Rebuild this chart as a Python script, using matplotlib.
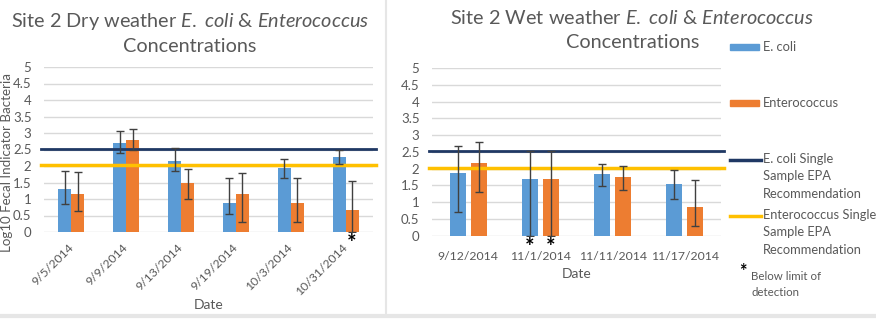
import matplotlib
matplotlib.use("Agg")
import matplotlib.pyplot as plt
import numpy as np
from matplotlib.lines import Line2D
from matplotlib.patches import Rectangle

plt.rcParams['font.family'] = ['Lato', 'DejaVu Sans']
plt.rcParams['mathtext.fontset'] = 'custom'
plt.rcParams['mathtext.rm'] = 'Lato'
plt.rcParams['mathtext.it'] = 'Lato:italic'

# dry weather data
dry_dates = ['9/5/2014', '9/9/2014', '9/13/2014', '9/19/2014', '10/3/2014', '10/31/2014']
dry_ecoli = [1.29, 2.70, 2.14, 0.87, 1.94, 2.28]
dry_ecoli_lo = [0.84, 2.38, 1.85, 0.55, 1.63, 2.07]
dry_ecoli_hi = [1.84, 3.07, 2.54, 1.64, 2.22, 2.48]
dry_entero = [1.16, 2.79, 1.48, 1.16, 0.87, 0.68]
dry_entero_lo = [0.64, 2.48, 0.99, 0.30, 0.30, 0.0]
dry_entero_hi = [1.81, 3.12, 1.90, 1.79, 1.65, 1.54]
dry_entero_bld = [False, False, False, False, False, True]

# wet weather data
wet_dates = ['9/12/2014', '11/1/2014', '11/11/2014', '11/17/2014']
wet_ecoli = [1.87, 1.69, 1.83, 1.54]
wet_ecoli_lo = [0.70, 0.0, 1.47, 1.10]
wet_ecoli_hi = [2.66, 2.54, 2.14, 1.96]
wet_entero = [2.16, 1.69, 1.75, 0.86]
wet_entero_lo = [1.29, 0.0, 1.36, 0.28]
wet_entero_hi = [2.79, 2.54, 2.09, 1.65]
wet_ecoli_bld = [False, True, False, False]
wet_entero_bld = [False, True, False, False]

ecoli_limit = 2.52
entero_limit = 2.03

BLUE = '#5B9BD5'
ORANGE = '#ED7D31'
NAVY = '#1F3864'
YELLOW = '#FFC000'
GRAY = '#595959'
GRID = '#D9D9D9'

W, H = 876, 319
fig = plt.figure(figsize=(W / 100, H / 100), dpi=100)


def fx(x):
    return x / W


def fy(y):
    return 1 - y / H


def star(ax, x):
    ax.annotate('*', (x, 0), xytext=(0, -1), textcoords='offset points',
                ha='center', va='top', fontsize=16, fontweight='bold', color='black',
                annotation_clip=False, zorder=5)


def draw_panel(ax, dates, ecoli, elo, ehi, entero, nlo, nhi, ebld, nbld, width, offset):
    x = np.arange(len(dates))
    ax.bar(x - offset, ecoli, width, color=BLUE, zorder=2)
    ax.bar(x + offset, entero, width, color=ORANGE, zorder=2)
    ecoli = np.array(ecoli)
    entero = np.array(entero)
    ax.errorbar(x - offset, ecoli, yerr=[ecoli - np.array(elo), np.array(ehi) - ecoli],
                fmt='none', ecolor='#404040', elinewidth=1, capsize=3, capthick=1, zorder=4)
    ax.errorbar(x + offset, entero, yerr=[entero - np.array(nlo), np.array(nhi) - entero],
                fmt='none', ecolor='#404040', elinewidth=1, capsize=3, capthick=1, zorder=4)
    ax.axhline(ecoli_limit, color=NAVY, lw=2, zorder=3, xmin=-0.01, xmax=1.01, clip_on=False)
    ax.axhline(entero_limit, color=YELLOW, lw=2.5, zorder=3, xmin=-0.01, xmax=1.01, clip_on=False)
    for i in range(len(dates)):
        if ebld[i]:
            star(ax, x[i] - offset)
        if nbld[i]:
            star(ax, x[i] + offset)
    ax.set_ylim(0, 5)
    ax.set_xlim(-0.5, len(dates) - 0.5)
    ax.set_yticks(np.arange(0, 5.01, 0.5))
    ax.set_yticklabels(['0', '0.5', '1', '1.5', '2', '2.5', '3', '3.5', '4', '4.5', '5'])
    ax.grid(axis='y', color=GRID, lw=1, zorder=0)
    ax.set_axisbelow(True)
    for s in ax.spines.values():
        s.set_visible(False)
    ax.tick_params(length=0, colors=GRAY, labelsize=9.5)
    ax.tick_params(axis='y', pad=9)
    ax.set_xticks(x)


# left: dry weather
ax1 = fig.add_axes([fx(44), fy(232), fx(373 - 44), (232 - 67) / H])
draw_panel(ax1, dry_dates, dry_ecoli, dry_ecoli_lo, dry_ecoli_hi,
           dry_entero, dry_entero_lo, dry_entero_hi,
           [False] * 6, dry_entero_bld, 0.236, 0.118)
ax1.set_xticklabels(dry_dates, rotation=45, ha='right', va='center', rotation_mode='anchor')
ax1.tick_params(axis='x', pad=10, labelsize=8.8)
ax1.set_ylabel('Log10 Fecal Indicator Bacteria', color=GRAY, fontsize=9.6)
ax1.yaxis.set_label_coords(-0.094, (232 - 163) / 165)
ax1.set_xlabel('Date', color=GRAY, fontsize=10)
ax1.xaxis.set_label_coords(0.5, (232 - 299) / 165)

# right: wet weather
ax2 = fig.add_axes([fx(432), fy(235.7), fx(721 - 432), (235.7 - 68) / H])
draw_panel(ax2, wet_dates, wet_ecoli, wet_ecoli_lo, wet_ecoli_hi,
           wet_entero, wet_entero_lo, wet_entero_hi,
           wet_ecoli_bld, wet_entero_bld, 0.22, 0.146)
ax2.set_xticklabels(wet_dates)
ax2.tick_params(axis='x', pad=11, labelsize=8.8)
ax2.set_xlabel('Date', color=GRAY, fontsize=10)
ax2.xaxis.set_label_coords(0.5, (235.7 - 268) / 167.7)

# titles
fig.text(fx(190), fy(21), r'Site 2 Dry weather $\mathit{E.\ coli}$ & $\mathit{Enterococcus}$',
         ha='center', va='center', fontsize=14.3, color=GRAY)
fig.text(fx(190), fy(46), 'Concentrations', ha='center', va='center', fontsize=14.3, color=GRAY)
fig.text(fx(632), fy(18), r'Site 2 Wet weather $\mathit{E.\ coli}$ & $\mathit{Enterococcus}$',
         ha='center', va='center', fontsize=14.3, color=GRAY)
fig.text(fx(633), fy(43), 'Concentrations', ha='center', va='center', fontsize=14.3, color=GRAY)

# legend
fig.add_artist(Rectangle((fx(730), fy(50)), fx(29), 6 / H, color=BLUE, transform=fig.transFigure))
fig.text(fx(763), fy(47), 'E. coli', va='center', fontsize=9.3, color=GRAY)
fig.add_artist(Rectangle((fx(730), fy(106)), fx(29), 6 / H, color=ORANGE, transform=fig.transFigure))
fig.text(fx(763), fy(103), 'Enterococcus', va='center', fontsize=9.3, color=GRAY)
fig.add_artist(Line2D([fx(730), fx(761)], [fy(160), fy(160)], color=NAVY, lw=2.5,
                      transform=fig.transFigure))
fig.text(fx(763), fy(153), 'E. coli Single\nSample EPA\nRecommendation', va='top',
         fontsize=9.3, color=GRAY, linespacing=1.55)
fig.add_artist(Line2D([fx(730), fx(761)], [fy(216), fy(216)], color=YELLOW, lw=2.5,
                      transform=fig.transFigure))
fig.text(fx(763), fy(209), 'Enterococcus Single\nSample EPA\nRecommendation', va='top',
         fontsize=9.3, color=GRAY, linespacing=1.55)
fig.text(fx(743), fy(272), '*', ha='center', va='center', fontsize=13, fontweight='bold', color='black')
fig.text(fx(751), fy(271), 'Below limit of\ndetection', va='top', fontsize=8.3, color=GRAY,
         linespacing=1.6)

# chart area borders
fig.add_artist(Line2D([fx(386), fx(386)], [fy(0), fy(315)], color='#E6E6E6', lw=1.5,
                      transform=fig.transFigure))
fig.add_artist(Line2D([0, 1], [fy(316), fy(316)], color='#E6E6E6', lw=3,
                      transform=fig.transFigure))

fig.savefig('out.png', dpi=100)
